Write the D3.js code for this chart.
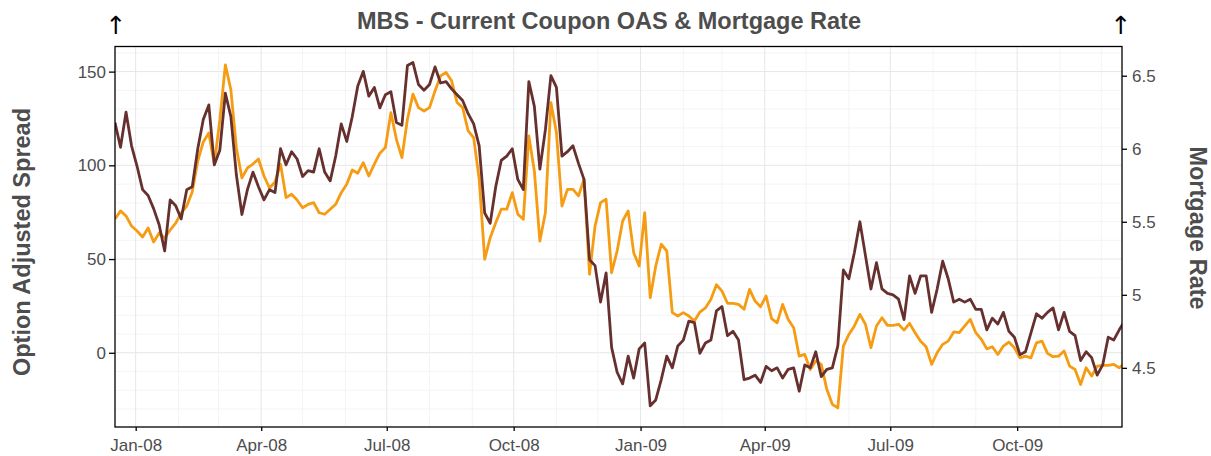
<!DOCTYPE html>
<html><head><meta charset="utf-8">
<script src="https://cdn.jsdelivr.net/npm/d3@7"></script>
<style>
html,body{margin:0;padding:0;background:#fff;}
svg{display:block;font-family:"Liberation Sans",Arial,sans-serif;}
</style></head><body>
<svg id="chart" width="1211" height="456"></svg>
<script>
const chartTitle = "MBS - Current Coupon OAS & Mortgage Rate";
const leftTitle = "Option Adjusted Spread";
const rightTitle = "Mortgage Rate";
const seriesStart = "2007-12-17";
const stepDays = 4;
const xDomainDates = ["2007-12-17", "2009-12-16"];

// Option Adjusted Spread (left axis, orange)
const oasValues = [
71.4, 75.7, 73.0, 67.6, 65.0, 61.8, 66.6, 59.1, 63.9, 61.2, 65.5, 69.2, 74.6, 78.3, 85.8, 102.3, 112.5, 117.3, 100.7, 124.2, 153.6, 140.3, 109.3, 93.3, 98.6, 100.7, 103.4, 94.3, 87.9, 91.1, 100.6,
82.8, 84.6, 81.5, 77.4, 79.2, 80.1, 74.7, 73.9, 76.6, 79.2, 85.4, 89.9, 97.5, 95.8, 101.4, 94.3, 100.6, 106.5, 109.5, 128.1, 113.9, 104.1, 124.6, 138.0, 130.8, 129.0, 130.8, 139.7, 147.7, 149.5,
145.1, 133.5, 130.8, 118.4, 114.8, 92.6, 49.9, 61.4, 69.4, 76.6, 76.6, 85.4, 73.9, 71.2, 115.7, 97.0, 59.6, 74.7, 133.5, 117.5, 78.3, 87.2, 87.2, 83.7, 92.6, 41.9, 67.6, 80.1, 81.9, 42.7,
54.3, 70.3, 75.7, 53.4, 46.3, 74.7, 29.4, 46.3, 57.9, 54.3, 21.4, 19.6, 21.4, 19.6, 16.9, 21.7, 23.9, 28.5, 36.3, 32.9, 26.4, 26.4, 25.8, 23.2, 33.8, 27.6, 24.6, 30.3, 18.2, 16.0,
25.8, 17.8, 13.3, -1.8, -0.9, -8.9, -4.4, -6.2, -19.5, -27.5, -29.4, 3.6, 9.8, 14.3, 20.5, 15.2, 2.7, 14.3, 18.7, 14.6, 14.6, 15.2, 12.1, 15.7, 10.7, 6.2, 3.2, -6.2, 0.0, 4.5,
6.2, 11.1, 10.7, 14.3, 17.8, 10.7, 7.2, 2.1, 3.2, -0.9, 3.6, 5.7, 2.7, -2.7, -1.8, -2.7, 5.3, 6.2, -0.3, -2.1, -1.8, 0.9, -7.1, -8.9, -16.9, -8.0, -12.4, -7.1, -6.7, -6.7, -6.2, -8.0, -5.7
];

// Mortgage Rate (right axis, brown)
const rateValues = [
6.18, 6.01, 6.25, 6.02, 5.88, 5.72, 5.68, 5.59, 5.48, 5.30, 5.65, 5.61, 5.52, 5.72, 5.74, 6.00, 6.20, 6.30, 5.89, 5.99, 6.38, 6.22, 5.82, 5.55, 5.72, 5.84, 5.74, 5.65, 5.72, 5.70, 6.00,
5.89, 5.98, 5.93, 5.81, 5.85, 5.84, 6.00, 5.84, 5.78, 5.95, 6.17, 6.05, 6.22, 6.43, 6.53, 6.36, 6.42, 6.28, 6.37, 6.39, 6.18, 6.16, 6.57, 6.59, 6.44, 6.40, 6.44, 6.56, 6.45, 6.46,
6.41, 6.37, 6.33, 6.24, 6.17, 6.02, 5.56, 5.49, 5.74, 5.92, 5.95, 6.00, 5.79, 5.72, 6.46, 6.29, 5.86, 6.13, 6.50, 6.42, 5.95, 5.98, 6.02, 5.90, 5.79, 5.24, 5.20, 4.95, 5.15, 4.64,
4.47, 4.39, 4.58, 4.43, 4.63, 4.67, 4.24, 4.28, 4.42, 4.58, 4.50, 4.65, 4.69, 4.82, 4.81, 4.60, 4.67, 4.69, 4.89, 4.92, 4.72, 4.75, 4.69, 4.42, 4.43, 4.45, 4.40, 4.51, 4.48, 4.50,
4.43, 4.49, 4.50, 4.34, 4.52, 4.50, 4.61, 4.44, 4.49, 4.50, 4.65, 5.17, 5.11, 5.29, 5.50, 5.27, 5.04, 5.22, 5.04, 5.01, 5.00, 4.97, 4.83, 5.13, 5.01, 5.13, 5.13, 4.88, 5.04, 5.23,
5.11, 4.95, 4.97, 4.95, 4.97, 4.90, 4.90, 4.76, 4.84, 4.80, 4.88, 4.75, 4.71, 4.59, 4.61, 4.74, 4.87, 4.84, 4.88, 4.91, 4.76, 4.88, 4.75, 4.72, 4.55, 4.61, 4.57, 4.45, 4.52, 4.71, 4.69, 4.76, 4.82
];

const leftTicks = [0, 50, 100, 150];
const rightTicks = [4.5, 5, 5.5, 6, 6.5];
const oasDomain = [-39.6, 163.4];
const rateDomain = [4.095, 6.70];

const colors = { oas: "#f59c12", rate: "#66302e", text: "#4d4d4d" };

const W = 1211, H = 456;
const plot = { left: 115, right: 1122, top: 46.5, bottom: 427 };

const svg = d3.select("#chart");
const parse = d3.utcParse("%Y-%m-%d");
const start = parse(seriesStart);
const dates = oasValues.map((_, i) => d3.utcDay.offset(start, i * stepDays));

const x = d3.scaleUtc().domain(xDomainDates.map(parse)).range([plot.left, plot.right]);
const yL = d3.scaleLinear().domain(oasDomain).range([plot.bottom, plot.top]);
const yR = d3.scaleLinear().domain(rateDomain).range([plot.bottom, plot.top]);

// grid
const grid = svg.append("g");
const hVals = d3.range(-30, 161, 10);
grid.selectAll("line.h").data(hVals).join("line")
  .attr("x1", plot.left).attr("x2", plot.right)
  .attr("y1", d => yL(d)).attr("y2", d => yL(d))
  .attr("stroke", d => d % 50 === 0 ? "#e6e6e6" : "#f1f1f1")
  .attr("stroke-width", d => d % 50 === 0 ? 1 : 0.8);
const months = d3.utcMonth.range(x.domain()[0], x.domain()[1]);
grid.selectAll("line.v").data(months).join("line")
  .attr("y1", plot.top).attr("y2", plot.bottom)
  .attr("x1", d => x(d)).attr("x2", d => x(d))
  .attr("stroke", d => d.getUTCMonth() % 3 === 0 ? "#e6e6e6" : "#f1f1f1")
  .attr("stroke-width", d => d.getUTCMonth() % 3 === 0 ? 1 : 0.8);

// clip
svg.append("clipPath").attr("id", "clip").append("rect")
  .attr("x", plot.left).attr("y", plot.top)
  .attr("width", plot.right - plot.left).attr("height", plot.bottom - plot.top);

const lines = svg.append("g").attr("clip-path", "url(#clip)");
lines.append("path")
  .datum(oasValues.map((v, i) => [dates[i], v]))
  .attr("fill", "none").attr("stroke", colors.oas).attr("stroke-width", 2.8)
  .attr("stroke-linejoin", "round")
  .attr("d", d3.line().x(d => x(d[0])).y(d => yL(d[1])));
lines.append("path")
  .datum(rateValues.map((v, i) => [dates[i], v]))
  .attr("fill", "none").attr("stroke", colors.rate).attr("stroke-width", 2.8)
  .attr("stroke-linejoin", "round")
  .attr("d", d3.line().x(d => x(d[0])).y(d => yR(d[1])));

// frame
svg.append("rect")
  .attr("x", plot.left).attr("y", plot.top)
  .attr("width", plot.right - plot.left).attr("height", plot.bottom - plot.top)
  .attr("fill", "none").attr("stroke", "#000").attr("stroke-width", 1.3);

function styleAxis(g) {
  g.select(".domain").remove();
  g.selectAll(".tick line").attr("stroke", "#000").attr("stroke-width", 1.3);
  g.selectAll(".tick text").attr("fill", colors.text).style("font-size", "17px")
    .style("font-family", "'Liberation Sans', Arial, sans-serif");
}

svg.append("g").attr("transform", `translate(${plot.left},0)`)
  .call(d3.axisLeft(yL).tickValues(leftTicks).tickSize(6).tickPadding(3).tickFormat(d3.format("d")))
  .call(styleAxis);
svg.append("g").attr("transform", `translate(${plot.right},0)`)
  .call(d3.axisRight(yR).tickValues(rightTicks).tickSize(5).tickPadding(5).tickFormat(d => String(d)))
  .call(styleAxis);
svg.append("g").attr("transform", `translate(0,${plot.bottom})`)
  .call(d3.axisBottom(x).ticks(d3.utcMonth.every(3)).tickSize(4).tickPadding(8).tickFormat(d3.utcFormat("%b-%y")))
  .call(styleAxis);

// titles
svg.append("text").attr("x", 609).attr("y", 29).attr("text-anchor", "middle")
  .attr("fill", colors.text).style("font-size", "23.5px").style("font-weight", "bold")
  .text(chartTitle);
svg.append("text").attr("transform", "translate(30,242) rotate(-90)").attr("text-anchor", "middle")
  .attr("fill", colors.text).style("font-size", "23.5px").style("font-weight", "bold")
  .text(leftTitle);
svg.append("text").attr("transform", "translate(1190,228) rotate(90)").attr("text-anchor", "middle")
  .attr("fill", colors.text).style("font-size", "23.5px").style("font-weight", "bold")
  .text(rightTitle);

// arrows
[plot.left + 1, plot.right - 1].forEach(ax => {
  svg.append("text").attr("x", ax).attr("y", 34).attr("text-anchor", "middle")
    .attr("fill", "#000").style("font-family", "'DejaVu Sans', sans-serif")
    .style("font-size", "25px").text("\u2191");
});
</script>
</body></html>
